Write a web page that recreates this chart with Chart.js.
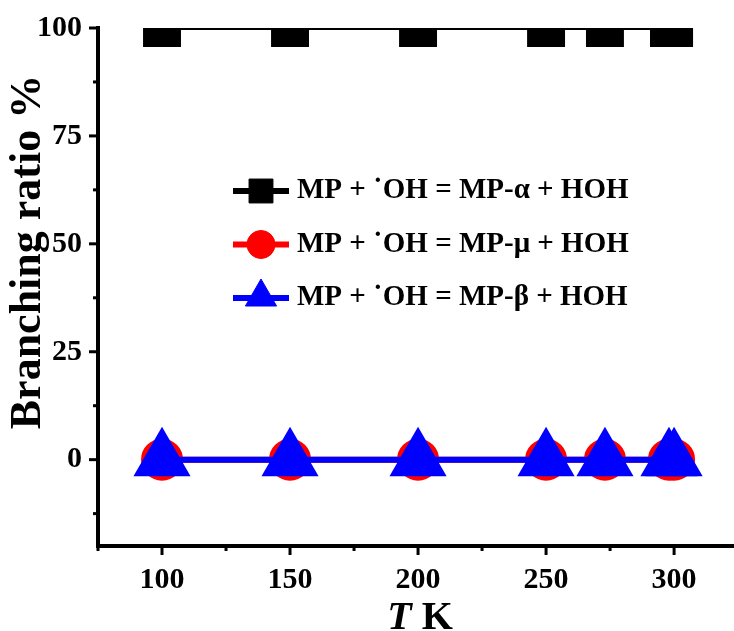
<!DOCTYPE html>
<html>
<head>
<meta charset="utf-8">
<script src="https://cdn.jsdelivr.net/npm/chart.js@4.4.1/dist/chart.umd.min.js"></script>
<style>
  body { margin: 0; background: #fff; }
  #wrap { width: 734px; height: 631px; }
</style>
</head>
<body>
<div id="wrap"><canvas id="display_graph" width="734" height="631"></canvas></div>
<script>
// Branching ratio vs temperature

const temps = [100, 150, 200, 250, 273, 298, 300];
const ratioAlpha = [100, 100, 100, 100, 100, 100, 100];
const ratioMu = [0, 0, 0, 0, 0, 0, 0];
const ratioBeta = [0, 0, 0, 0, 0, 0, 0];

const seriesLabels = [
  "MP + \u02D9OH = MP-\u03B1 + HOH",
  "MP + \u02D9OH = MP-\u03BC + HOH",
  "MP + \u02D9OH = MP-\u03B2 + HOH"
];

const xTickValues = [100, 150, 200, 250, 300];
const yTickValues = [0, 25, 50, 75, 100];

const serif = "\"Liberation Serif\", serif";

function toPoints(xs, ys) {
  return xs.map((x, i) => ({x: x, y: ys[i]}));
}

// minor + major tick marks, drawn from the scales
const tickMarks = {
  id: "tickMarks",
  afterDraw(chart) {
    const ctx = chart.ctx;
    const xs = chart.scales.x, ys = chart.scales.y;
    ctx.save();
    ctx.strokeStyle = "#000";
    ctx.lineWidth = 3;
    const bottom = xs.top, left = ys.right;
    for (let v = xs.min; v <= xs.max; v += 25) {
      const px = xs.getPixelForValue(v);
      const len = xTickValues.includes(v) ? 9 : 5;
      ctx.beginPath();
      ctx.moveTo(px, bottom);
      ctx.lineTo(px, bottom + len);
      ctx.stroke();
    }
    for (let v = -12.5; v <= ys.max; v += 12.5) {
      const py = ys.getPixelForValue(v);
      const len = yTickValues.includes(v) ? 9 : 5;
      ctx.beginPath();
      ctx.moveTo(left, py);
      ctx.lineTo(left - len, py);
      ctx.stroke();
    }
    ctx.restore();
  }
};

// axis titles (T in italic)
const axisTitles = {
  id: "axisTitles",
  afterDraw(chart) {
    const ctx = chart.ctx;
    const area = chart.chartArea;
    ctx.save();
    ctx.fillStyle = "#000";

    // y title
    ctx.save();
    ctx.translate(29, 252);
    ctx.rotate(-Math.PI / 2);
    ctx.textAlign = "center";
    ctx.textBaseline = "middle";
    ctx.font = "bold 44px " + serif;
    ctx.fillText("Branching ratio %", 0, 0);
    ctx.restore();

    // x title
    const tFont = "italic bold 40px " + serif;
    const kFont = "bold 40px " + serif;
    ctx.font = tFont;
    const wT = ctx.measureText("T").width;
    ctx.font = kFont;
    const wK = ctx.measureText(" K").width;
    let x0 = (area.left + area.right) / 2 + 4 - (wT + wK) / 2;
    ctx.textAlign = "left";
    ctx.textBaseline = "alphabetic";
    ctx.font = tFont;
    ctx.fillText("T", x0, 629);
    ctx.font = kFont;
    ctx.fillText(" K", x0 + wT, 629);
    ctx.restore();
  }
};

// legend inside the plot
const innerLegend = {
  id: "innerLegend",
  afterDraw(chart, args, opts) {
    const ctx = chart.ctx;
    const markerSize = [13, 14, 18];
    ctx.save();
    opts.order.forEach((di, row) => {
      const ds = chart.data.datasets[di];
      const cy = opts.top + row * opts.rowGap;
      ctx.strokeStyle = ds.borderColor;
      ctx.lineWidth = 6;
      ctx.beginPath();
      ctx.moveTo(opts.left, cy);
      ctx.lineTo(opts.left + opts.lineLen, cy);
      ctx.stroke();
      ctx.fillStyle = ds.pointBackgroundColor;
      ctx.strokeStyle = ds.pointBorderColor;
      ctx.lineWidth = 1;
      Chart.helpers.drawPoint(ctx, {
        pointStyle: ds.pointStyle,
        radius: markerSize[row] * (ds.pointStyle === "rect" ? 1.3 : 1),
        borderWidth: 1,
        rotation: 0
      }, opts.left + opts.lineLen / 2, ds.pointStyle === "triangle" ? cy - 1 : cy);
      ctx.fillStyle = "#000";
      ctx.font = "bold 29px " + serif;
      ctx.textAlign = "left";
      ctx.textBaseline = "middle";
      ctx.fillText(ds.label, opts.left + opts.lineLen + 8, cy);
    });
    ctx.restore();
  }
};

const data = {
  datasets: [{
    label: seriesLabels[0],
    data: toPoints(temps, ratioAlpha),
    borderColor: "#000",
    backgroundColor: "#000",
    pointBackgroundColor: "#000",
    pointBorderColor: "#000",
    pointStyle: "rect",
    pointRadius: 24,
    borderWidth: 4,
    order: 2
  }, {
    label: seriesLabels[1],
    data: toPoints(temps, ratioMu),
    borderColor: "#ff0000",
    backgroundColor: "#ff0000",
    pointBackgroundColor: "#ff0000",
    pointBorderColor: "#ff0000",
    pointStyle: "circle",
    pointRadius: 18,
    borderWidth: 6,
    order: 1
  }, {
    label: seriesLabels[2],
    data: toPoints(temps, ratioBeta),
    borderColor: "#0000ff",
    backgroundColor: "#0000ff",
    pointBackgroundColor: "#0000ff",
    pointBorderColor: "#0000ff",
    pointStyle: "triangle",
    pointRadius: 27,
    borderWidth: 6,
    order: 0
  }]
};

const options = {
  responsive: false,
  animation: false,
  layout: {
    autoPadding: false,
    padding: {top: 28, right: 0, left: 0, bottom: 0}
  },
  elements: {
    line: { tension: 0 },
    point: { borderWidth: 1, hoverRadius: 0 }
  },
  plugins: {
    legend: { display: false },
    tooltip: { enabled: false },
    innerLegend: { order: [0, 1, 2], left: 233, top: 191, rowGap: 53.5, lineLen: 56 }
  },
  scales: {
    x: {
      type: "linear",
      min: 75,
      max: 323.4,
      afterBuildTicks: (scale) => { scale.ticks = xTickValues.map(v => ({value: v})); },
      afterFit: (scale) => {
        scale.height = 85;
        scale.paddingLeft = 0;
        scale.paddingRight = 0;
      },
      grid: { display: false, drawTicks: false },
      border: { display: true, color: "#000", width: 4 },
      ticks: {
        padding: 16,
        color: "#000",
        maxRotation: 0,
        autoSkip: false,
        font: { family: serif, size: 30, weight: "bold" }
      }
    },
    y: {
      type: "linear",
      min: -20,
      max: 100,
      afterBuildTicks: (scale) => { scale.ticks = yTickValues.map(v => ({value: v})); },
      afterFit: (scale) => {
        scale.width = 98;
        scale.paddingTop = 0;
        scale.paddingBottom = 0;
      },
      grid: { display: false, drawTicks: false },
      border: { display: true, color: "#000", width: 4 },
      ticks: {
        padding: 16,
        color: "#000",
        autoSkip: false,
        font: { family: serif, size: 30, weight: "bold" }
      }
    }
  }
};

const ctx = document.getElementById("display_graph").getContext("2d");
const chart = new Chart(ctx, {
  type: "line",
  data: data,
  options: options,
  plugins: [tickMarks, axisTitles, innerLegend]
});
</script>
</body>
</html>
